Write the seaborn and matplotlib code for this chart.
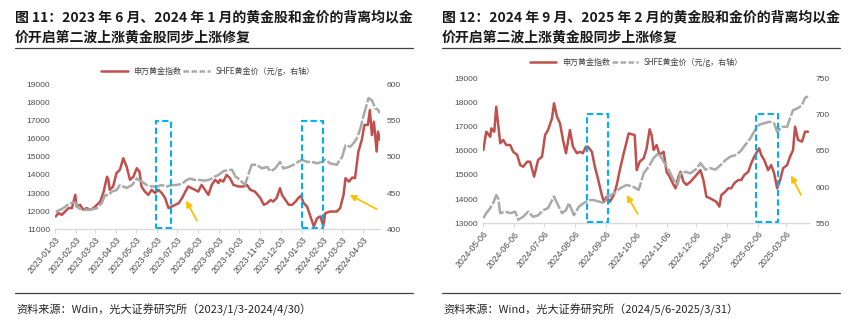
import matplotlib
matplotlib.use("Agg")
import matplotlib.pyplot as plt
import matplotlib.dates as mdates
import pandas as pd
import seaborn as sns
from matplotlib.lines import Line2D
from matplotlib.patches import Rectangle

# ---------------- data ----------------
L_RED_DATES = ["2023-01-04","2023-01-08","2023-01-13","2023-01-18","2023-01-23","2023-01-28","2023-02-02","2023-02-04",
    "2023-02-09","2023-02-14","2023-02-19","2023-02-24","2023-03-01","2023-03-06","2023-03-11","2023-03-16","2023-03-21",
    "2023-03-23","2023-03-25","2023-03-30","2023-04-04","2023-04-09","2023-04-14","2023-04-19","2023-04-24","2023-04-29",
    "2023-05-04","2023-05-08","2023-05-11","2023-05-16","2023-05-21","2023-05-26","2023-05-31","2023-06-05","2023-06-10",
    "2023-06-15","2023-06-20","2023-06-25","2023-06-30","2023-07-05","2023-07-10","2023-07-15","2023-07-19","2023-07-24",
    "2023-07-29","2023-08-03","2023-08-08","2023-08-13","2023-08-18","2023-08-23","2023-08-28","2023-09-02","2023-09-04",
    "2023-09-09","2023-09-14","2023-09-19","2023-09-24","2023-10-02","2023-10-09","2023-10-14","2023-10-19","2023-10-26",
    "2023-11-03","2023-11-08","2023-11-13","2023-11-18","2023-11-22","2023-11-27","2023-12-02","2023-12-05","2023-12-10",
    "2023-12-15","2023-12-20","2023-12-25","2023-12-29","2024-01-02","2024-01-06","2024-01-11","2024-01-16","2024-01-21",
    "2024-01-26","2024-01-31","2024-02-04","2024-02-07","2024-02-14","2024-02-24","2024-02-29","2024-03-05","2024-03-08",
    "2024-03-13","2024-03-18","2024-03-22","2024-03-27","2024-04-01","2024-04-05","2024-04-10","2024-04-13","2024-04-16",
    "2024-04-19","2024-04-23","2024-04-25","2024-04-28"]
L_RED_VALUES = [11705,11890,11800,11980,12170,12170,12900,12260,
    12350,12075,12170,12075,12170,12350,12530,13080,13900,
    13730,13180,13360,14100,14280,14920,14460,13730,13900,
    14370,14190,13360,13080,12900,13180,13000,13180,13000,
    12720,12170,12260,12350,12440,12720,13080,13360,13270,
    13180,13080,13450,13180,12900,13450,13730,13550,13730,
    13630,14000,13820,13450,13360,13360,13450,13180,13080,
    12720,12350,12440,12620,12530,12720,13270,12900,12620,
    12350,12350,12530,12720,12850,12440,12260,11710,11160,
    11620,11710,11160,11890,11980,11980,12170,12900,13820,
    13630,13855,13820,15290,15930,16760,16760,17580,16200,
    16940,15290,16390,15930]

L_GRAY_DATES = ["2023-01-04","2023-01-15","2023-01-25","2023-02-02","2023-02-07","2023-02-14","2023-02-24","2023-03-06",
    "2023-03-13","2023-03-18","2023-03-23","2023-03-28","2023-04-04","2023-04-09","2023-04-14","2023-04-19","2023-04-27",
    "2023-05-04","2023-05-11","2023-05-19","2023-05-26","2023-06-03","2023-06-10","2023-06-17","2023-06-25","2023-07-02",
    "2023-07-10","2023-07-17","2023-07-22","2023-07-29","2023-08-06","2023-08-13","2023-08-21","2023-08-28","2023-09-02",
    "2023-09-09","2023-09-17","2023-09-22","2023-09-27","2023-10-04","2023-10-11","2023-10-16","2023-10-21","2023-10-29",
    "2023-11-05","2023-11-13","2023-11-18","2023-11-25","2023-12-02","2023-12-07","2023-12-15","2023-12-22","2023-12-29",
    "2024-01-03","2024-01-11","2024-01-18","2024-01-26","2024-02-02","2024-02-07","2024-02-14","2024-02-24","2024-03-03",
    "2024-03-08","2024-03-15","2024-03-20","2024-03-25","2024-03-30","2024-04-04","2024-04-08","2024-04-11","2024-04-16",
    "2024-04-21","2024-04-25","2024-04-28"]
L_GRAY_VALUES = [424,429,436,437,429,427,427,429,
    436,447,447,452,454,461,459,457,461,
    470,466,461,459,459,461,459,461,461,
    463,468,470,468,468,467,469,473,475,
    480,482,482,473,468,461,475,489,489,
    484,486,480,484,493,484,486,489,493,
    496,493,493,491,493,496,491,489,500,
    516,514,519,526,539,558,571,581,578,
    567,565,560]

R_RED_DATES = ["2024-05-06","2024-05-09","2024-05-13","2024-05-14","2024-05-17","2024-05-19","2024-05-23","2024-05-26",
    "2024-05-29","2024-06-02","2024-06-05","2024-06-09","2024-06-12","2024-06-15","2024-06-19","2024-06-22","2024-06-26",
    "2024-06-30","2024-07-04","2024-07-07","2024-07-10","2024-07-14","2024-07-16","2024-07-19","2024-07-22","2024-07-25",
    "2024-07-28","2024-08-01","2024-08-04","2024-08-08","2024-08-11","2024-08-14","2024-08-17","2024-08-19","2024-08-23",
    "2024-08-26","2024-08-29","2024-09-02","2024-09-04","2024-09-07","2024-09-10","2024-09-14","2024-09-17","2024-09-20",
    "2024-09-24","2024-09-29","2024-10-05","2024-10-07","2024-10-10","2024-10-14","2024-10-17","2024-10-20","2024-10-22",
    "2024-10-24","2024-10-27","2024-10-30","2024-11-03","2024-11-06","2024-11-09","2024-11-13","2024-11-15","2024-11-18",
    "2024-11-20","2024-11-23","2024-11-26","2024-11-30","2024-12-03","2024-12-06","2024-12-10","2024-12-13","2024-12-16",
    "2024-12-20","2024-12-23","2024-12-26","2024-12-29","2024-12-31","2025-01-04","2025-01-07","2025-01-10","2025-01-13",
    "2025-01-17","2025-01-20","2025-01-23","2025-01-27","2025-01-30","2025-02-02","2025-02-07","2025-02-09","2025-02-12",
    "2025-02-16","2025-02-19","2025-02-22","2025-02-25","2025-02-28","2025-03-03","2025-03-07","2025-03-10","2025-03-13",
    "2025-03-15","2025-03-18","2025-03-22","2025-03-25","2025-03-28"]
R_RED_VALUES = [16030,16790,16580,16930,16790,17825,16310,16450,
    16240,16240,15960,15830,15410,15340,15550,15550,14930,
    15620,15760,16650,16860,17345,17965,17410,17140,16450,
    15900,16860,16170,15900,15960,15900,16170,16170,15960,
    15340,14860,14170,13890,14100,13890,14170,14590,15200,
    15900,16720,16650,15200,15550,15690,16100,16890,16650,
    16030,16240,15830,15960,15130,14930,14590,14450,14930,
    15130,14720,14590,14720,14860,15000,15200,14790,14100,
    14030,13960,13890,13690,14170,14310,14450,14450,14660,
    14790,14790,15000,15130,15480,15760,16100,15830,15620,
    15200,15410,15070,14450,14790,15280,15410,15760,16030,
    17000,16450,16380,16790,16790]

R_GRAY_DATES = ["2024-05-06","2024-05-09","2024-05-13","2024-05-16","2024-05-19","2024-05-21","2024-05-23","2024-05-28",
    "2024-06-02","2024-06-07","2024-06-10","2024-06-15","2024-06-20","2024-06-25","2024-06-30","2024-07-05","2024-07-10",
    "2024-07-16","2024-07-19","2024-07-24","2024-07-28","2024-07-31","2024-08-05","2024-08-10","2024-08-15","2024-08-20",
    "2024-08-25","2024-08-30","2024-09-04","2024-09-09","2024-09-14","2024-09-20","2024-09-27","2024-10-04","2024-10-09",
    "2024-10-14","2024-10-19","2024-10-24","2024-10-29","2024-11-03","2024-11-08","2024-11-13","2024-11-17","2024-11-20",
    "2024-11-25","2024-11-30","2024-12-05","2024-12-10","2024-12-15","2024-12-20","2024-12-25","2024-12-30","2025-01-04",
    "2025-01-09","2025-01-14","2025-01-19","2025-01-24","2025-01-29","2025-02-03","2025-02-07","2025-02-12","2025-02-17",
    "2025-02-22","2025-02-25","2025-03-02","2025-03-07","2025-03-10","2025-03-13","2025-03-18","2025-03-22","2025-03-25",
    "2025-03-28"]
R_GRAY_VALUES = [557,564,571,578,589,584,564,566,
    564,566,555,559,566,559,561,568,571,
    587,578,564,568,578,561,573,578,582,
    582,580,578,587,591,598,603,600,596,
    619,628,640,647,635,624,610,603,619,
    621,619,624,633,624,626,624,630,637,
    642,644,649,658,667,679,686,688,690,
    688,676,683,683,695,706,709,713,723,
    725]

L_XTICKS = ["2023-01-03","2023-02-03","2023-03-03","2023-04-03","2023-05-03","2023-06-03","2023-07-03","2023-08-03",
            "2023-09-03","2023-10-03","2023-11-03","2023-12-03","2024-01-03","2024-02-03","2024-03-03","2024-04-03"]
R_XTICKS = ["2024-05-06","2024-06-06","2024-07-06","2024-08-06","2024-09-06","2024-10-06","2024-11-06","2024-12-06",
            "2025-01-06","2025-02-06","2025-03-06"]
L_YTICKS = [11000,12000,13000,14000,15000,16000,17000,18000,19000]
L_Y2TICKS = [400,450,500,550,600]
R_YTICKS = [13000,14000,15000,16000,17000,18000,19000]
R_Y2TICKS = [550,600,650,700,750]

SERIES_RED = "申万黄金指数"
SERIES_GRAY = "SHFE黄金价（元/g，右轴）"

L_TITLE = ["图 11：2023 年 6 月、2024 年 1 月的黄金股和金价的背离均以金", "价开启第二波上涨黄金股同步上涨修复"]
R_TITLE = ["图 12：2024 年 9 月、2025 年 2 月的黄金股和金价的背离均以金", "价开启第二波上涨黄金股同步上涨修复"]
L_SOURCE = "资料来源：Wdin，光大证券研究所（2023/1/3-2024/4/30）"
R_SOURCE = "资料来源：Wind，光大证券研究所（2024/5/6-2025/3/31）"

# annotation geometry (right-axis units)
L_BOXES = [("2023-06-01", 23, 402, 550), ("2024-01-03", 31, 402, 550)]
R_BOXES = [("2024-08-18", 21, 552, 701), ("2025-02-04", 22, 552, 701)]
L_ARROWS = [(("2023-07-16", 439.6), ("2023-08-01", 412)), (("2024-03-14", 447.5), ("2024-04-23", 427.8))]
R_ARROWS = [(("2024-09-27", 589), ("2024-10-08", 563)), (("2025-03-11", 616), ("2025-03-21", 589))]

# ---------------- style ----------------
sns.set_theme(style="white")
plt.rcParams["font.family"] = ["Liberation Sans", "Noto Sans CJK SC", "DejaVu Sans"]
CJK = ["Noto Sans CJK SC", "DejaVu Sans"]

RED = "#C0504D"
GRAY = "#A9A9A9"
BLUE = "#00B0F0"
GOLD = "#FFC000"
TICK_C = "#4D4D4D"
AX_C = "#D9D9D9"

W, H = 855, 328
fig = plt.figure(figsize=(W / 100, H / 100), dpi=100)


def fx(px):
    return px / W


def fy(py):
    return 1 - py / H


def panel(left, top, right, bottom, red_d, red_v, gray_d, gray_v, xlim, ylim, yticks, y2lim, y2ticks,
          xticks, boxes, arrows, leg_xy):
    ax = fig.add_axes([fx(left), fy(bottom), fx(right - left), (bottom - top) / H])
    dfr = pd.DataFrame({"date": pd.to_datetime(red_d), "value": red_v})
    dfg = pd.DataFrame({"date": pd.to_datetime(gray_d), "value": gray_v})
    sns.lineplot(data=dfr, x="date", y="value", ax=ax, color=RED, linewidth=1.8, estimator=None)
    ax2 = ax.twinx()
    sns.lineplot(data=dfg, x="date", y="value", ax=ax2, color=GRAY, linewidth=1.8, estimator=None,
                 linestyle=(0, (6, 0.8)))
    for a in (ax, ax2):
        a.set_xlim(pd.Timestamp(xlim[0]), pd.Timestamp(xlim[1]))
        a.set_xlabel("")
        a.set_ylabel("")
        for s in a.spines.values():
            s.set_visible(False)
        a.grid(False)
    ax.spines["bottom"].set_visible(True)
    ax.spines["bottom"].set_color(AX_C)
    ax.spines["bottom"].set_linewidth(1.0)
    ax.set_ylim(*ylim)
    ax.set_yticks(yticks)
    ax.set_yticklabels([str(v) for v in yticks])
    ax2.set_ylim(*y2lim)
    ax2.set_yticks(y2ticks)
    ax2.set_yticklabels([str(v) for v in y2ticks])
    ax.tick_params(axis="y", length=0, pad=3.5, labelsize=6.0, labelcolor=TICK_C)
    ax2.tick_params(axis="y", length=0, pad=5, labelsize=6.0, labelcolor=TICK_C)
    tdates = pd.to_datetime(xticks)
    ax.set_xticks(tdates)
    ax.set_xticklabels(xticks, rotation=50, ha="right", rotation_mode="anchor")
    ax.tick_params(axis="x", length=3, width=0.8, color=AX_C, pad=1.5, labelsize=6.3, labelcolor=TICK_C,
                   bottom=True)
    # dashed boxes
    for start, width, y0, y1 in boxes:
        x0 = mdates.date2num(pd.Timestamp(start))
        ax2.add_patch(Rectangle((x0, y0), width, y1 - y0, fill=False, edgecolor=BLUE, linewidth=1.5,
                                linestyle=(0, (3, 1.6)), zorder=6))
    # arrows
    for (hd, hv), (td, tv) in arrows:
        ax2.annotate("", xy=(pd.Timestamp(hd), hv), xytext=(pd.Timestamp(td), tv),
                     arrowprops=dict(arrowstyle="-|>", color=GOLD, lw=1.3, mutation_scale=9,
                                     shrinkA=0, shrinkB=0), zorder=7)
    handles = [Line2D([], [], color=RED, lw=1.8),
               Line2D([], [], color=GRAY, lw=1.8, linestyle=(0, (2.2, 1.0)))]
    ax.legend(handles, [SERIES_RED, SERIES_GRAY], loc="center", bbox_to_anchor=leg_xy, ncol=2, frameon=False,
              prop={"family": CJK, "size": 5.8}, handlelength=3.3, handletextpad=0.7, columnspacing=0.2,
              labelcolor="#404040")
    return ax, ax2


panel(55, 84.3, 380, 229.3, L_RED_DATES, L_RED_VALUES, L_GRAY_DATES, L_GRAY_VALUES,
      ("2023-01-03", "2024-04-28"), (11000, 19000), L_YTICKS, (400, 600), L_Y2TICKS,
      L_XTICKS, L_BOXES, L_ARROWS, (0.47, 1.09))
panel(483.3, 78.3, 809, 223.3, R_RED_DATES, R_RED_VALUES, R_GRAY_DATES, R_GRAY_VALUES,
      ("2024-05-06", "2025-03-29"), (13000, 19000), R_YTICKS, (550, 750), R_Y2TICKS,
      R_XTICKS, R_BOXES, R_ARROWS, (0.47, 1.11))

# titles, rules and sources
for x0, x1, title, src in ((15, 413, L_TITLE, L_SOURCE), (442, 840, R_TITLE, R_SOURCE)):
    fig.text(fx(x0), fy(17), title[0], family=CJK, fontsize=10.0, fontweight="bold", color="#1a1a1a",
             va="center", ha="left")
    fig.text(fx(x0), fy(37), title[1], family=CJK, fontsize=10.0, fontweight="bold", color="#1a1a1a",
             va="center", ha="left")
    fig.add_artist(Line2D([fx(x0), fx(x1)], [fy(47.5), fy(47.5)], color="#404040", lw=0.9))
    fig.add_artist(Line2D([fx(x0), fx(x1)], [fy(293.3), fy(293.3)], color="#404040", lw=0.9))
    fig.text(fx(x0 + 1), fy(310), src, family=CJK, fontsize=8, color="#262626", va="center", ha="left")

fig.savefig("out.png", dpi=100, facecolor="white")
